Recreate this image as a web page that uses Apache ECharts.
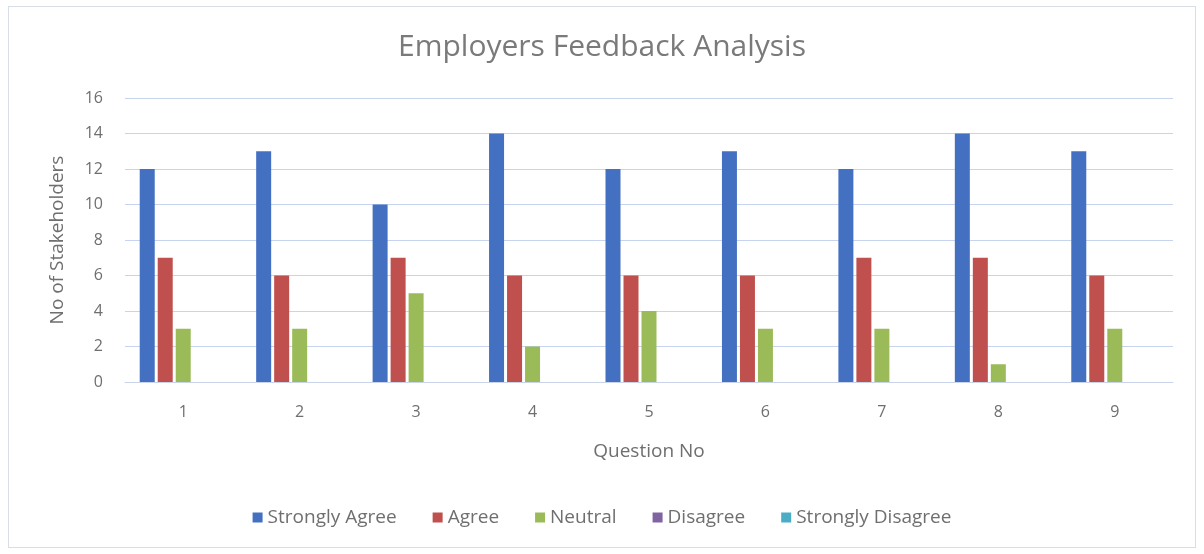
<!DOCTYPE html>
<html>
<head>
<meta charset="utf-8">
<script src="https://cdn.jsdelivr.net/npm/echarts@6/dist/echarts.min.js"></script>
<style>
  html, body { margin: 0; padding: 0; background: #fff; }
  #frame {
    position: absolute; left: 8px; top: 6px; width: 1186px; height: 540px;
    border: 1px solid #d9dde6;
  }
  #chart { width: 1204px; height: 554px; }
</style>
</head>
<body>
<div id="frame"></div>
<div id="chart"></div>
<script>
const questions = ["1", "2", "3", "4", "5", "6", "7", "8", "9"];
const stronglyAgree = [12, 13, 10, 14, 12, 13, 12, 14, 13];
const agree = [7, 6, 7, 6, 6, 6, 7, 7, 6];
const neutral = [3, 3, 5, 2, 4, 3, 3, 1, 3];
const disagree = [0, 0, 0, 0, 0, 0, 0, 0, 0];
const stronglyDisagree = [0, 0, 0, 0, 0, 0, 0, 0, 0];

const font = "'Open Sans', 'Liberation Sans', sans-serif";
const gray = "#6f6f6f";

const makeSeries = (name, data, color) => ({
  name,
  type: "bar",
  data,
  barWidth: 15,
  barGap: "20%",
  itemStyle: { color }
});

const chart = echarts.init(document.getElementById("chart"));
chart.setOption({
  animation: false,
  title: {
    text: "Employers Feedback Analysis",
    left: "center",
    top: 27,
    textStyle: { fontFamily: font, fontSize: 30, fontWeight: "normal", color: "#7a7a7a" }
  },
  legend: {
    bottom: 22,
    left: "center",
    itemWidth: 10,
    itemHeight: 10,
    itemGap: 36,
    icon: "rect",
    textStyle: { fontFamily: font, fontSize: 19, color: gray }
  },
  grid: { left: 125, right: 31, top: 98, bottom: 172 },
  xAxis: {
    type: "category",
    data: questions,
    name: "Question No",
    nameLocation: "middle",
    nameGap: 60,
    nameTextStyle: { fontFamily: font, fontSize: 19, color: gray },
    axisLine: { lineStyle: { color: "#c9d4ea" } },
    axisTick: { show: false },
    axisLabel: { fontFamily: font, fontSize: 16, color: gray, margin: 22 }
  },
  yAxis: {
    type: "value",
    min: 0,
    max: 16,
    interval: 2,
    name: "No of Stakeholders",
    nameLocation: "middle",
    nameGap: 58,
    nameTextStyle: { fontFamily: font, fontSize: 19, color: gray },
    axisLine: { show: false },
    axisTick: { show: false },
    splitLine: { lineStyle: { color: "#c6d4f0" } },
    axisLabel: { fontFamily: font, fontSize: 16, color: gray, margin: 22 }
  },
  series: [
    makeSeries("Strongly Agree", stronglyAgree, "#4470c2"),
    makeSeries("Agree", agree, "#c0504d"),
    makeSeries("Neutral", neutral, "#9bbb59"),
    makeSeries("Disagree", disagree, "#8064a2"),
    makeSeries("Strongly Disagree", stronglyDisagree, "#4bacc6")
  ]
});
</script>
</body>
</html>
